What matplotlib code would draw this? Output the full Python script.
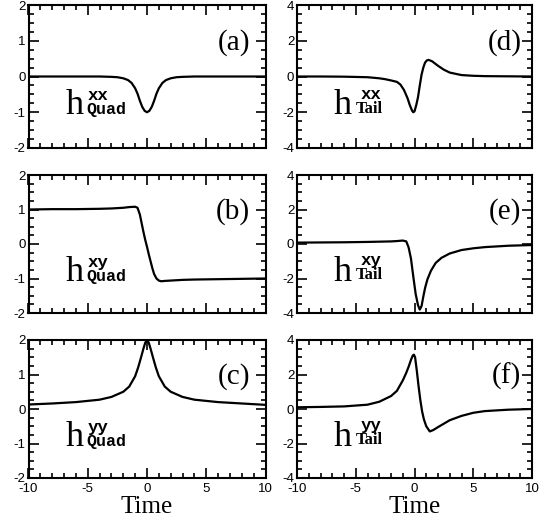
import matplotlib
matplotlib.use('Agg')
import matplotlib.pyplot as plt
from matplotlib.ticker import MultipleLocator

plt.rcParams['axes.unicode_minus'] = False
plt.rcParams['font.family'] = 'Liberation Sans'

# --- data ---
a_t = [-10, -8, -6, -4, -3, -2.5, -2, -1.6, -1.3, -1.0, -0.8, -0.6, -0.4, -0.2, 0,
       0.2, 0.4, 0.6, 0.8, 1.0, 1.3, 1.6, 2, 2.5, 3, 4, 6, 8, 10]
a_h = [0, 0, 0, 0, -0.01, -0.02, -0.05, -0.1, -0.18, -0.33, -0.48, -0.68, -0.85, -0.96, -1.0,
       -0.96, -0.85, -0.68, -0.48, -0.33, -0.18, -0.1, -0.05, -0.02, -0.01, 0, 0, 0, 0]

b_t = [-10, -8, -6, -4, -3, -2, -1.5, -1.0, -0.8, -0.6, -0.45, -0.3, -0.15, 0, 0.15,
       0.3, 0.45, 0.6, 0.8, 1.0, 1.2, 1.5, 2, 3, 4, 6, 8, 10]
b_h = [1.0, 1.01, 1.01, 1.02, 1.03, 1.05, 1.07, 1.08, 1.05, 0.85, 0.6, 0.35, 0.12, -0.08, -0.3,
       -0.5, -0.7, -0.87, -1.0, -1.06, -1.08, -1.07, -1.06, -1.04, -1.03, -1.02, -1.01, -1.0]

c_t = [-10, -8, -6, -4, -3, -2, -1.5, -1.0, -0.75, -0.5, -0.3, -0.15, 0,
       0.15, 0.3, 0.5, 0.75, 1.0, 1.5, 2, 3, 4, 6, 8, 10]
c_h = [0.13, 0.16, 0.2, 0.27, 0.35, 0.5, 0.65, 0.95, 1.2, 1.5, 1.75, 1.92, 2.0,
       1.92, 1.75, 1.5, 1.2, 0.95, 0.65, 0.5, 0.35, 0.27, 0.2, 0.16, 0.12]

d_t = [-10, -8, -6, -4, -3, -2.5, -2, -1.5, -1.2, -0.9, -0.6, -0.4, -0.2, -0.1, 0, 0.15,
       0.3, 0.45, 0.6, 0.75, 0.9, 1.05, 1.2, 1.5, 2, 2.5, 3, 4, 5, 6, 8, 10]
d_h = [0, 0, -0.01, -0.04, -0.1, -0.15, -0.22, -0.3, -0.45, -0.75, -1.2, -1.6, -1.92, -2.0, -1.95, -1.6,
       -1.15, -0.5, 0.1, 0.5, 0.78, 0.9, 0.93, 0.85, 0.6, 0.38, 0.22, 0.08, 0.04, 0.02, 0.01, 0.0]

e_t = [-10, -8, -6, -4, -2, -1.5, -1.0, -0.7, -0.5, -0.3, -0.1, 0.1, 0.3, 0.45, 0.6,
       0.75, 0.9, 1.1, 1.4, 1.8, 2.3, 3, 4, 5, 6, 8, 10]
e_h = [0.08, 0.09, 0.1, 0.12, 0.15, 0.17, 0.2, 0.15, -0.2, -0.85, -1.9, -2.9, -3.55, -3.8, -3.6,
       -3.05, -2.55, -2.05, -1.55, -1.1, -0.8, -0.55, -0.35, -0.25, -0.18, -0.1, -0.06]

f_t = [-10, -8, -6, -4, -3, -2, -1.5, -1.0, -0.7, -0.5, -0.3, -0.15, -0.05, 0.05, 0.2,
       0.35, 0.5, 0.65, 0.8, 1.0, 1.3, 1.6, 2, 2.5, 3, 4, 5, 6, 8, 10]
f_h = [0.1, 0.12, 0.15, 0.25, 0.42, 0.75, 1.05, 1.65, 2.1, 2.45, 2.85, 3.1, 3.15, 3.0, 2.2,
       1.3, 0.5, -0.15, -0.6, -1.0, -1.3, -1.22, -1.05, -0.85, -0.65, -0.4, -0.22, -0.12, -0.04, 0.0]

panels = [
    (a_t, a_h, 'xx', 'Quad', '(a)'),
    (b_t, b_h, 'xy', 'Quad', '(b)'),
    (c_t, c_h, 'yy', 'Quad', '(c)'),
    (d_t, d_h, 'xx', 'Tail', '(d)'),
    (e_t, e_h, 'xy', 'Tail', '(e)'),
    (f_t, f_h, 'yy', 'Tail', '(f)'),
]

fig = plt.figure(figsize=(5.53, 5.27), dpi=100)
W, H = 553, 527
rows = [(5, 148), (175, 313), (340, 478)]
cols = [(28.5, 265.5), (297, 532)]

for k, (t, h, sup, sub, tag) in enumerate(panels):
    col, row = divmod(k, 3)
    x0, x1 = cols[col]
    y0, y1 = rows[row]
    ax = fig.add_axes([x0 / W, 1 - y1 / H, (x1 - x0) / W, (y1 - y0) / H])
    ax.plot(t, h, color='black', lw=1.6)
    ax.set_xlim(-10, 10)
    if col == 0:
        ax.set_ylim(-2, 2)
        ax.yaxis.set_major_locator(MultipleLocator(1))
        ax.yaxis.set_minor_locator(MultipleLocator(0.25))
    else:
        ax.set_ylim(-4, 4)
        ax.yaxis.set_major_locator(MultipleLocator(2))
        ax.yaxis.set_minor_locator(MultipleLocator(0.5))
    ax.xaxis.set_major_locator(MultipleLocator(5))
    ax.xaxis.set_minor_locator(MultipleLocator(1))
    ax.tick_params(which='both', direction='in', top=True, right=True, width=1.2,
                   labelsize=9.5, pad=2)
    ax.tick_params(axis='x', pad=3.5)
    ax.tick_params(which='major', length=7)
    ax.tick_params(which='minor', length=3.5)
    for s in ax.spines.values():
        s.set_linewidth(1.5)
    if row < 2:
        ax.tick_params(labelbottom=False)
    else:
        ax.set_xlabel('Time', family='Liberation Serif', fontsize=18, labelpad=1)

    # panel tag and h label
    tx = 0.935 if col == 0 else 0.955
    ax.text(tx, 0.685, tag, transform=ax.transAxes, ha='right', va='baseline',
            family='Liberation Serif', fontsize=21)
    ax.text(0.155, 0.235, 'h', transform=ax.transAxes, ha='left', va='baseline',
            family='Liberation Serif', fontsize=26)
    if sub == 'Quad':
        ax.text(0.248, 0.335, sup, transform=ax.transAxes, ha='left', va='baseline',
                family='Liberation Mono', weight='bold', fontsize=12.5)
        ax.text(0.245, 0.235, sub, transform=ax.transAxes, ha='left', va='baseline',
                family='Liberation Mono', weight='bold', fontsize=12)
    else:
        ax.text(0.27, 0.345, sup, transform=ax.transAxes, ha='left', va='baseline',
                family='Liberation Mono', weight='bold', fontsize=12.5)
        ax.text(0.25, 0.245, sub, transform=ax.transAxes, ha='left', va='baseline',
                family='Liberation Serif', weight='bold', fontsize=12)

fig.savefig('out.png', dpi=100)
